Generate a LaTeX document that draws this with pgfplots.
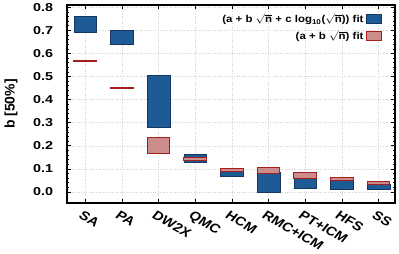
\documentclass[border=0pt]{standalone}
\usepackage{fontspec}
\setmainfont{Liberation Sans}
\usepackage{pgfplots}
\pgfplotsset{compat=1.18}
\definecolor{bfill}{RGB}{30,90,150}
\definecolor{bdraw}{RGB}{20,55,95}
\definecolor{rfill}{RGB}{205,140,140}
\definecolor{rdraw}{RGB}{165,30,30}
\begin{document}
\begin{tikzpicture}
\begin{axis}[
  scale only axis, width=328bp, height=198bp,
  xmin=-0.5, xmax=8.45, ymin=-0.048, ymax=0.81,
  xtick={0,1,2,3,4,5,6,7,8},
  xticklabels={SA,PA,DW2X,QMC,HCM,RMC+ICM,PT+ICM,HFS,SS},
  x tick label style={xscale=1.2, rotate=-34, anchor=north west, inner sep=0pt, xshift=3bp, yshift=-7bp, font=\fontsize{12.5}{14}\selectfont\bfseries},
  ytick={0,0.1,...,0.8},
  minor y tick num=4,
  y tick label style={xscale=1.25, anchor=east, inner sep=0pt, xshift=-11bp, font=\fontsize{11.5}{13}\selectfont\bfseries, /pgf/number format/.cd, fixed, fixed zerofill, precision=1, assume math mode=true},
  ylabel={b [50\%]},
  ylabel style={font=\fontsize{14}{16}\selectfont\bfseries, at={(rel axis cs:0,0.5)}, anchor=center, yshift=56bp},
  axis line style={line width=1.5pt},
  tick style={black, line width=0.6pt},
  major tick length=4bp, minor tick length=2bp,
  tick align=inside,
  grid=major,
  major grid style={gray!35, dotted, line width=0.5pt},
  legend plot pos=right,
  legend cell align=right,
  legend style={draw=none, fill=none, inner sep=0pt, at={(1,1)}, anchor=north east, xshift=-13bp, yshift=-7bp, font=\fontsize{10}{12}\selectfont\bfseries, row sep=3pt, nodes={xscale=1.15}},
  legend image code/.code={\draw[#1] (0bp,-4.5bp) rectangle (15bp,5bp);},
]
\coordinate (bl) at (rel axis cs:0,0);
\coordinate (tr) at (rel axis cs:1,1);
% blue: (a + b sqrt n + c log10 sqrt n) fit
\addplot[fill=bfill, draw=bdraw, line width=0.6pt] coordinates {(-0.31,0.693) (0.31,0.693) (0.31,0.763) (-0.31,0.763)} -- cycle;
\addlegendentry{(a + b \mbox{$\sqrt{\mbox{n}}$} + c log\textsubscript{10}(\mbox{$\sqrt{\mbox{n}}$})) fit}
% red: (a + b sqrt n) fit (legend)
\addplot[fill=rfill, draw=rdraw, line width=1pt] coordinates {(-0.31,0.5655) (0.31,0.5655) (0.31,0.5675) (-0.31,0.5675)} -- cycle;
\addlegendentry{(a + b \mbox{$\sqrt{\mbox{n}}$}) fit}
\pgfplotsset{every axis plot/.append style={forget plot}}
% blue boxes
\addplot[fill=bfill, draw=bdraw, line width=0.6pt] coordinates {(0.69,0.640) (1.31,0.640) (1.31,0.700) (0.69,0.700)} -- cycle;
\addplot[fill=bfill, draw=bdraw, line width=0.6pt] coordinates {(1.69,0.280) (2.31,0.280) (2.31,0.506) (1.69,0.506)} -- cycle;
\addplot[fill=bfill, draw=bdraw, line width=0.6pt] coordinates {(2.69,0.129) (3.31,0.129) (3.31,0.161) (2.69,0.161)} -- cycle;
\addplot[fill=bfill, draw=bdraw, line width=0.6pt] coordinates {(3.69,0.066) (4.31,0.066) (4.31,0.095) (3.69,0.095)} -- cycle;
\addplot[fill=bfill, draw=bdraw, line width=0.6pt] coordinates {(4.69,0.000) (5.31,0.000) (5.31,0.085) (4.69,0.085)} -- cycle;
\addplot[fill=bfill, draw=bdraw, line width=0.6pt] coordinates {(5.69,0.016) (6.31,0.016) (6.31,0.062) (5.69,0.062)} -- cycle;
\addplot[fill=bfill, draw=bdraw, line width=0.6pt] coordinates {(6.69,0.013) (7.31,0.013) (7.31,0.052) (6.69,0.052)} -- cycle;
\addplot[fill=bfill, draw=bdraw, line width=0.6pt] coordinates {(7.69,0.012) (8.31,0.012) (8.31,0.034) (7.69,0.034)} -- cycle;
% red boxes
\addplot[fill=rfill, draw=rdraw, line width=1pt] coordinates {(0.69,0.4485) (1.31,0.4485) (1.31,0.4505) (0.69,0.4505)} -- cycle;
\addplot[fill=rfill, draw=rdraw, line width=1pt] coordinates {(1.69,0.167) (2.31,0.167) (2.31,0.237) (1.69,0.237)} -- cycle;
\addplot[fill=rfill, draw=rdraw, line width=1pt] coordinates {(2.69,0.137) (3.31,0.137) (3.31,0.149) (2.69,0.149)} -- cycle;
\addplot[fill=rfill, draw=rdraw, line width=1pt] coordinates {(3.69,0.088) (4.31,0.088) (4.31,0.101) (3.69,0.101)} -- cycle;
\addplot[fill=rfill, draw=rdraw, line width=1pt] coordinates {(4.69,0.081) (5.31,0.081) (5.31,0.104) (4.69,0.104)} -- cycle;
\addplot[fill=rfill, draw=rdraw, line width=1pt] coordinates {(5.69,0.059) (6.31,0.059) (6.31,0.083) (5.69,0.083)} -- cycle;
\addplot[fill=rfill, draw=rdraw, line width=1pt] coordinates {(6.69,0.049) (7.31,0.049) (7.31,0.062) (6.69,0.062)} -- cycle;
\addplot[fill=rfill, draw=rdraw, line width=1pt] coordinates {(7.69,0.031) (8.31,0.031) (8.31,0.045) (7.69,0.045)} -- cycle;
\end{axis}
\pgfresetboundingbox
\path[use as bounding box] ([xshift=-67bp,yshift=-51bp]bl) rectangle ([xshift=4bp,yshift=5bp]tr);
\end{tikzpicture}
\end{document}
